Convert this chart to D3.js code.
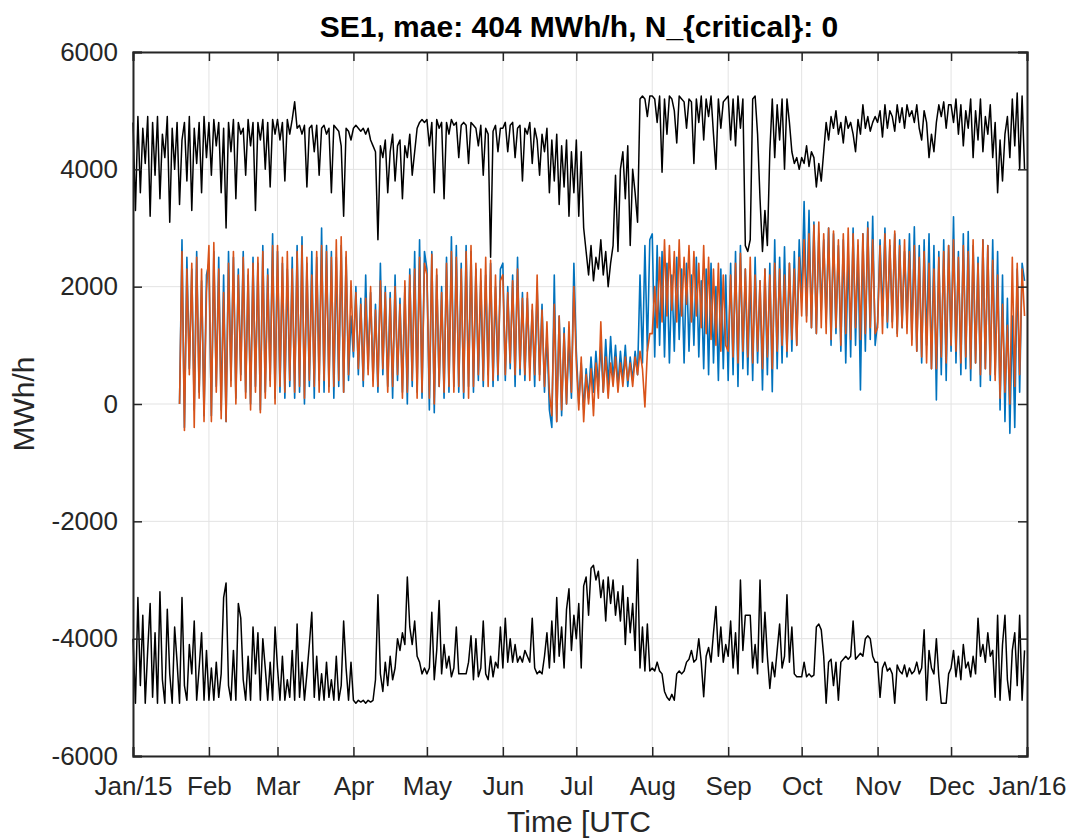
<!DOCTYPE html>
<html>
<head>
<meta charset="utf-8">
<script src="https://cdn.jsdelivr.net/npm/d3@7"></script>
<style>
  body { margin: 0; background: #fff; }
  svg { display: block; font-family: "Liberation Sans", Arial, sans-serif; }
  .tick text { fill: #262626; }
</style>
</head>
<body>
<svg id="canvas"></svg>
<script>
// Canvas size
var canvasWidth = 1068;
var canvasHeight = 839;

// Plot box
var margin = {
  top: 52,
  right: 41,
  bottom: 83,
  left: 133
};

// Tick labels
var monthLabels = ['Jan/15', 'Feb', 'Mar', 'Apr', 'May', 'Jun', 'Jul', 'Aug', 'Sep', 'Oct', 'Nov', 'Dec', 'Jan/16'];
var valueTicks = [-6000, -4000, -2000, 0, 2000, 4000, 6000];

// Upper limit, one value per day, grouped by month
var upperLimit = [
  [4800,3300,4900,3600,4700,4100,4900,3200,4800,3900,4900,3500,4600,4200,4900,3100,4700,4000,4800,3400,4500,4800,3800,4900,3300,4700,4100,4800,3600,4900,4200],
  [4800,3900,4850,4400,4800,3600,4700,3000,4800,4300,4850,3500,4800,4600,4700,3900,4850,4400,4800,3300,4800,4500,4850,4000,4800,3700,4850,4600],
  [4850,4500,4800,3800,4850,4600,4850,5150,4700,4750,4600,4750,3700,4700,4750,4300,4750,3900,4700,4750,4600,4700,3600,4750,4700,4650,4400,3200,4700,4650,4500],
  [4700,4750,4700,4650,4700,4600,4700,4500,4400,4300,2800,4400,4200,4500,3600,4300,4600,3800,4400,4500,3500,4400,4200,4600,3900,4300,4700,4800,4850,4800],
  [4850,4400,4800,3600,4850,4700,4800,3500,4800,4600,4850,4750,4800,4200,4750,4800,4750,4100,4800,4750,4700,4400,4750,3900,4700,4600,2500,4650,4750,4300,4700],
  [4700,4800,4300,4750,4800,4200,4700,4750,3800,4700,4600,4800,4100,4700,4500,3900,4600,4300,4700,3600,4500,3800,4600,3400,4400,3700,4500,3200,4300,3600],
  [4500,3200,4300,3000,2600,2200,2700,2100,2500,2300,2800,2200,2600,2000,2400,2700,3900,2600,4000,4300,3500,4400,2700,4000,3600,3100,5200,5250,5200,4900,5250],
  [5250,5200,4800,5250,3950,5200,4600,5250,5200,5000,4450,5250,5200,5150,4700,5200,5150,4100,5200,4800,5250,4500,5200,4900,5250,4600,4000,5200,4700,5150,5200],
  [5250,4500,5200,4400,5250,4700,5200,2700,2600,2800,5200,5250,4600,3500,2600,3300,2700,4300,5200,4200,5100,4500,5200,4000,5200,4800,4300,4100,4200,4000],
  [4200,4100,4400,4050,4300,4200,3700,4100,3800,4300,4800,4500,4900,4700,5000,4600,4800,4450,4900,4700,4800,4600,4300,4850,4600,5100,4700,4900,4650,4800,4900],
  [4800,5000,4550,5100,4700,5000,4900,4650,5100,4800,5050,4700,5100,4900,5000,4800,5100,4700,4500,5000,4800,4200,4600,4300,4800,5100,4900,5150,4700,5100],
  [5100,4800,5200,4600,5100,4400,5000,4700,5200,4200,5000,4500,5200,4300,4900,4600,5100,4200,4800,3600,4500,3800,4600,4900,4200,5200,4400,5300,4000,5250,4000]
];

// Lower limit, one value per day, grouped by month
var lowerLimit = [
  [-4000,-5100,-3300,-4800,-3600,-5100,-4200,-3400,-5000,-3900,-5100,-3200,-4700,-5100,-3500,-4600,-5100,-3800,-4400,-5100,-3300,-4800,-5050,-4100,-4600,-3700,-5050,-4500,-3900,-5050,-4200],
  [-5050,-4500,-5050,-4400,-5000,-4600,-3300,-3050,-4800,-5050,-4200,-5050,-3400,-3650,-4700,-5050,-4300,-5050,-3800,-4600,-3900,-5050,-4000,-4500,-5050,-4400,-5050,-3800],
  [-4500,-5050,-4300,-5050,-4700,-5000,-4200,-5050,-3750,-5000,-4400,-5050,-4600,-4100,-3550,-5000,-4300,-5050,-4600,-5050,-4400,-5000,-4700,-5050,-4300,-5050,-4800,-3700,-4500,-5050,-4400],
  [-5050,-5100,-5050,-5080,-5050,-5100,-5050,-5080,-5050,-4700,-3250,-4600,-4900,-4400,-4800,-4300,-4700,-4500,-4000,-4200,-3900,-4100,-2950,-3800,-4100,-3700,-4300,-4400,-4600,-4500],
  [-4600,-4500,-3550,-4700,-4200,-3350,-4600,-4100,-4500,-4300,-4650,-4500,-3800,-4600,-4600,-4600,-4600,-4400,-3950,-4700,-4000,-4650,-4500,-3700,-4600,-4700,-4300,-4650,-4400,-4500,-3800],
  [-4500,-3650,-4400,-4000,-4400,-4100,-4400,-4300,-4400,-4200,-4300,-4400,-3650,-4500,-4600,-4550,-4600,-4300,-3900,-4500,-3700,-4400,-3300,-4300,-3800,-4500,-3500,-3150,-4200,-3600],
  [-4000,-3400,-4500,-3100,-2950,-3600,-2800,-2750,-3000,-2850,-3300,-3000,-3700,-2950,-3400,-3000,-3600,-3200,-3700,-3100,-4100,-3300,-3900,-3400,-4200,-2650,-4500,-3800,-4550,-3750,-4550],
  [-4500,-4550,-4400,-4550,-4600,-4900,-5000,-5050,-4950,-5050,-4600,-4550,-4600,-4550,-4400,-4350,-4200,-4400,-4350,-4000,-4400,-4990,-4300,-4150,-4400,-3900,-3450,-4300,-3800,-4400,-4100],
  [-4300,-3700,-4500,-3900,-4600,-3000,-4200,-3600,-3600,-3600,-4500,-4100,-4600,-3000,-4400,-3550,-4300,-4850,-4400,-4650,-4200,-3750,-4500,-4300,-3250,-4400,-3800,-4600,-4650,-4650],
  [-4650,-4400,-4650,-4600,-4650,-4620,-3800,-3750,-3850,-4300,-5100,-4400,-4350,-4800,-4400,-5050,-4400,-4350,-4300,-4350,-4300,-3700,-4350,-4300,-4250,-4300,-4000,-3950,-4000,-4300,-4400],
  [-4400,-5000,-4500,-4400,-4550,-4500,-4600,-5100,-4450,-4550,-4600,-4450,-4650,-4500,-4600,-4550,-4400,-4600,-4500,-3850,-5050,-4200,-4500,-4600,-4000,-4650,-5100,-5100,-5100,-4600],
  [-4500,-4200,-4650,-4300,-4700,-4100,-4500,-4400,-4650,-4300,-4600,-3650,-4300,-4100,-4400,-3900,-4300,-4200,-5000,-3600,-5050,-4100,-3600,-4700,-5050,-4200,-3900,-4800,-3600,-5050,-4200]
];

// Measured flow (blue), one value per day from Jan 20, grouped by month
var measuredFlow = [
  [0,2800,-400,2500,600,2300,-100,2600,200,2100,-200,2200],
  [2400,-200,2600,300,2500,-100,2200,-300,2600,400,2500,100,2300,500,2600,200,2200,0,2500,300,2400,-100,2700,200,2300,400,2900,100],
  [2600,200,2400,100,2300,300,2500,100,2700,200,2850,0,2400,300,2600,100,2500,400,3000,200,2700,300,2600,100,2500,300,2700,200,2500,400,1500],
  [800,2000,500,1800,300,2200,600,1900,400,1700,200,2400,500,2000,300,1900,100,2200,400,1800,200,2000,0,2300,300,2600,200,2800,100,2600],
  [2300,-100,2600,-150,2200,300,2000,100,2500,200,2850,300,2700,200,2400,100,2700,300,2600,200,2300,400,2100,300,2200,500,2400,300,2000,400,2300],
  [2400,400,2000,600,2200,300,2500,500,1900,400,1800,600,1600,300,2000,500,1700,200,1200,-100,-400,2200,-300,1500,-200,1300,0,1100,100,2400],
  [900,0,700,-100,600,100,800,200,900,300,1000,200,1100,300,1150,400,1000,300,900,400,1000,300,800,400,900,500,2200,700,2700,900,2800],
  [2900,800,2700,1000,2600,800,2400,700,2200,900,2500,1100,2300,700,2400,900,2200,1000,2500,800,2100,600,2300,500,2400,700,2000,400,2300,600,2200],
  [400,2400,500,2600,300,2700,600,2300,500,2200,400,2500,700,2100,240,2300,500,2400,210,2800,600,2500,700,2680,800,2400,900,2600,1000,2800],
  [1800,3450,1500,3300,1300,3100,1200,2900,1600,2800,1400,3000,1000,2900,1200,2700,900,2800,700,2600,800,3000,1000,2700,240,2900,900,3100,1100,3200,1000],
  [1400,2800,1500,3000,1300,2700,1400,2900,1200,2800,1300,2600,1400,2900,1100,3020,900,2700,700,2800,1000,2900,600,2700,70,2600,500,2800,400,2700],
  [900,3190,700,2600,500,2900,600,2940,400,2700,700,2500,300,2800,600,2700,400,2800,500,2600,-100,2200,-300,1800,-500,1500,-400,2300,200,2400,2100]
];

// Forecast flow (orange), one value per day from Jan 20, grouped by month
var forecastFlow = [
  [0,2600,-450,2300,500,2400,-400,2500,100,2300,-300,1900],
  [2700,-300,2750,200,2300,-250,1900,-300,2400,300,2600,0,2200,400,2500,100,2300,-100,2400,200,2500,-150,2600,100,2200,300,2700,0],
  [2700,300,2500,200,2600,400,2300,200,2600,300,2700,100,2500,400,2200,300,2600,200,2700,400,2600,200,2500,300,2800,400,2850,200,2600,500,2100],
  [900,1900,600,1700,400,1800,500,2000,300,1600,300,2100,600,1900,200,1800,300,2000,500,1700,100,2100,200,2200,400,2300,100,2500,200,2400],
  [2200,100,2550,0,2300,300,1900,200,2400,300,2600,200,2500,300,2300,200,2600,100,2700,300,2400,500,2300,400,2500,300,2450,400,2200,500,2100],
  [2200,500,1900,700,2100,500,2300,600,1800,500,1900,400,1700,500,2200,400,1600,300,1400,200,-200,1700,-300,1500,-100,1200,0,1400,200,2000],
  [700,-100,800,-300,500,0,600,-200,700,100,1400,200,800,100,700,300,800,200,700,300,800,400,700,300,800,500,900,600,-50,900,1200],
  [1200,2000,1300,2500,1400,2800,1500,2700,1600,2600,1400,2800,1500,2500,1700,2700,1400,2600,1500,2400,1300,2700,1200,2500,1100,2300,1000,2400,900,2200,1000],
  [900,2200,800,2400,700,2570,900,2300,800,2500,700,2200,900,2100,600,2300,800,2200,600,2400,900,2300,1000,2200,900,2400,1100,2300,1000,2500],
  [1500,2800,1400,2900,1300,3050,1200,3100,1300,2900,1200,3000,1100,2950,1300,2800,1000,2900,1200,3000,1100,2900,1300,2800,1100,2900,1200,3000,1300,2800,1200],
  [1300,2700,1200,2900,1400,2800,1300,2950,1150,2700,1300,2800,1200,2600,1000,2700,900,2500,800,2600,700,2400,600,2300,600,2500,800,2600,700,2700],
  [1000,2800,900,2500,700,2700,800,2600,600,2800,700,2400,500,2800,600,2700,500,2450,400,2200,100,1700,200,1340,0,2500,300,2400,500,2300,1500]
];

var flowFirstDay = 20;

/**
 * Turns month groups into dated points.
 */
function toPoints(groups, firstDay) {
  var points = [];
  groups.forEach(function(values, m) {
    var startDay = m === 0 ? firstDay : 1;
    values.forEach(function(v, i) {
      points.push({
        date: new Date(Date.UTC(2015, m, startDay + i)),
        value: v
      });
    });
  });
  return points;
}

function drawChart() {
  var svg = d3.select('#canvas')
    .attr('width', canvasWidth)
    .attr('height', canvasHeight);

  var plotRight = canvasWidth - margin.right;
  var plotBottom = canvasHeight - margin.bottom;

  // Scales
  var timeScale = d3.scaleUtc()
    .domain([new Date(Date.UTC(2015, 0, 1)), new Date(Date.UTC(2016, 0, 1))])
    .range([margin.left, plotRight]);

  var valueScale = d3.scaleLinear()
    .domain([-6000, 6000])
    .range([plotBottom, margin.top]);

  var monthTicks = monthLabels.map(function(d, i) {
    return new Date(Date.UTC(2015, i, 1));
  });

  // Grid
  var grid = svg.append('g').attr('class', 'grid');

  grid.selectAll('.vgrid')
    .data(monthTicks)
    .enter()
    .append('line')
    .attr('x1', function(d) { return timeScale(d); })
    .attr('x2', function(d) { return timeScale(d); })
    .attr('y1', margin.top)
    .attr('y2', plotBottom)
    .attr('stroke', '#e3e3e3')
    .attr('stroke-width', 1);

  grid.selectAll('.hgrid')
    .data(valueTicks)
    .enter()
    .append('line')
    .attr('x1', margin.left)
    .attr('x2', plotRight)
    .attr('y1', function(d) { return valueScale(d); })
    .attr('y2', function(d) { return valueScale(d); })
    .attr('stroke', '#e3e3e3')
    .attr('stroke-width', 1);

  // Lines
  var line = d3.line()
    .x(function(d) { return timeScale(d.date); })
    .y(function(d) { return valueScale(d.value); });

  var series = [
    { points: toPoints(upperLimit, 1), color: '#000000', width: 1.5 },
    { points: toPoints(lowerLimit, 1), color: '#000000', width: 1.5 },
    { points: toPoints(measuredFlow, flowFirstDay), color: '#0072BD', width: 1.6 },
    { points: toPoints(forecastFlow, flowFirstDay), color: '#D95319', width: 1.6 }
  ];

  svg.append('g')
    .attr('class', 'lines')
    .selectAll('path')
    .data(series)
    .enter()
    .append('path')
    .attr('fill', 'none')
    .attr('stroke', function(d) { return d.color; })
    .attr('stroke-width', function(d) { return d.width; })
    .attr('stroke-linejoin', 'round')
    .attr('d', function(d) { return line(d.points); });

  // Axes
  var xAxis = d3.axisBottom(timeScale)
    .tickValues(monthTicks)
    .tickFormat(function(d, i) { return monthLabels[i]; })
    .tickSize(-9)
    .tickPadding(21);

  var xAxisTop = d3.axisTop(timeScale)
    .tickValues(monthTicks)
    .tickFormat('')
    .tickSize(-9);

  var yAxis = d3.axisLeft(valueScale)
    .tickValues(valueTicks)
    .tickFormat(function(d) { return String(d); })
    .tickSize(-9)
    .tickPadding(15);

  var yAxisRight = d3.axisRight(valueScale)
    .tickValues(valueTicks)
    .tickFormat('')
    .tickSize(-9);

  svg.append('g')
    .attr('class', 'x-axis')
    .attr('transform', 'translate(0,' + plotBottom + ')')
    .call(xAxis);

  svg.append('g')
    .attr('class', 'x-axis-top')
    .attr('transform', 'translate(0,' + margin.top + ')')
    .call(xAxisTop);

  svg.append('g')
    .attr('class', 'y-axis')
    .attr('transform', 'translate(' + margin.left + ',0)')
    .call(yAxis);

  svg.append('g')
    .attr('class', 'y-axis-right')
    .attr('transform', 'translate(' + plotRight + ',0)')
    .call(yAxisRight);

  svg.selectAll('.domain')
    .attr('stroke', '#262626')
    .attr('stroke-width', 2);

  svg.selectAll('.tick line')
    .attr('stroke', '#262626')
    .attr('stroke-width', 1.5);

  svg.selectAll('.tick text')
    .attr('font-size', 26);

  // Title and labels
  svg.append('text')
    .attr('x', 579)
    .attr('y', 37)
    .attr('text-anchor', 'middle')
    .attr('font-size', 30)
    .attr('font-weight', 'bold')
    .attr('fill', '#000')
    .text('SE1, mae: 404 MWh/h, N_{critical}: 0');

  svg.append('text')
    .attr('transform', 'translate(34,' + ((margin.top + plotBottom) / 2) + ') rotate(-90)')
    .attr('text-anchor', 'middle')
    .attr('font-size', 30)
    .attr('fill', '#262626')
    .text('MWh/h');

  svg.append('text')
    .attr('x', 579)
    .attr('y', 832)
    .attr('text-anchor', 'middle')
    .attr('font-size', 30)
    .attr('fill', '#262626')
    .text('Time [UTC');
}

drawChart();
</script>
</body>
</html>
